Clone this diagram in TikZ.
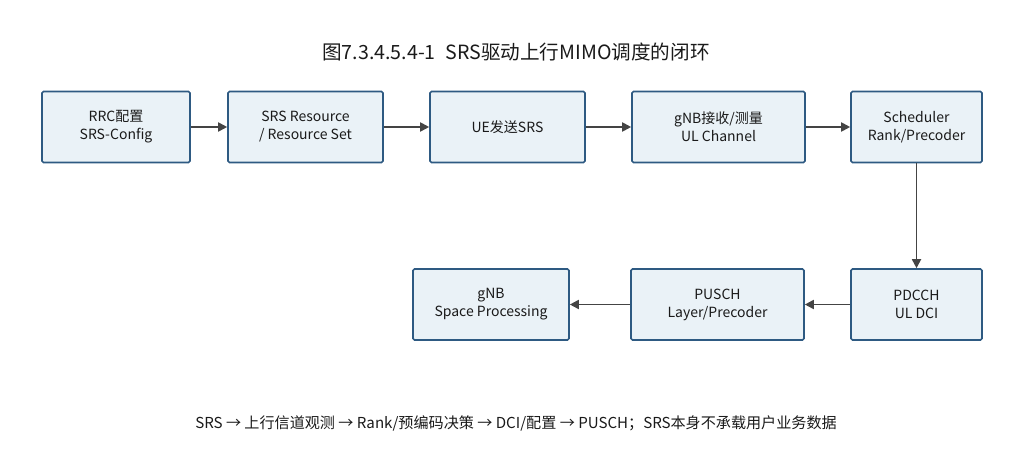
\documentclass[tikz,border=0pt]{standalone}
\usepackage{fontspec}
\setmainfont{Noto Sans CJK SC}
\usetikzlibrary{arrows.meta}
\definecolor{boxfill}{HTML}{EAF2F7}
\definecolor{boxline}{HTML}{2E5A82}
\definecolor{arrowc}{HTML}{444444}
\definecolor{textc}{HTML}{1A1A1A}
\tikzset{
  stagebox/.style={draw=boxline, fill=boxfill, line width=1.6pt, rounded corners=1.5pt,
    inner sep=0pt, align=center, text=textc, font=\fontsize{14}{18}\selectfont, minimum height=71pt},
  flow/.style={draw=arrowc, line width=1.8pt, -{Triangle[length=9pt,width=9pt]}},
}
\begin{document}
\begin{tikzpicture}[x=1pt,y=-1pt]
\useasboundingbox (0,0) rectangle (1032,473);
\node[text=textc, font=\fontsize{19.6}{24}\selectfont] (title) at (516,52) {图7.3.4.5.4-1\hspace{0.5em}SRS驱动上行MIMO调度的闭环};
\node[stagebox, minimum width=148pt] (rrc) at (116,127) {RRC配置\\SRS-Config};
\node[stagebox, minimum width=155pt] (res) at (305.5,127) {SRS Resource\\/ Resource Set};
\node[stagebox, minimum width=155pt] (ue) at (507.5,127) {UE发送SRS};
\node[stagebox, minimum width=173pt] (gnb) at (718.5,127) {gNB接收/测量\\UL Channel};
\node[stagebox, minimum width=131pt] (sch) at (916.5,127) {Scheduler\\Rank/Precoder};
\node[stagebox, minimum width=131pt] (pdcch) at (916.5,304.5) {PDCCH\\UL DCI};
\node[stagebox, minimum width=173pt] (pusch) at (717.5,304.5) {PUSCH\\Layer/Precoder};
\node[stagebox, minimum width=156pt] (space) at (491,304.5) {gNB\\Space Processing};
\draw[flow] (rrc) -- (res);
\draw[flow] (res) -- (ue);
\draw[flow] (ue) -- (gnb);
\draw[flow] (gnb) -- (sch);
\draw[flow] (sch) -- (pdcch);
\draw[flow] (pdcch) -- (pusch);
\draw[flow] (pusch) -- (space);
\node[text=textc, font=\fontsize{15.1}{19}\selectfont] (note) at (516,423) {SRS → 上行信道观测 → Rank/预编码决策 → DCI/配置 → PUSCH；SRS本身不承载用户业务数据};
\end{tikzpicture}
\end{document}
